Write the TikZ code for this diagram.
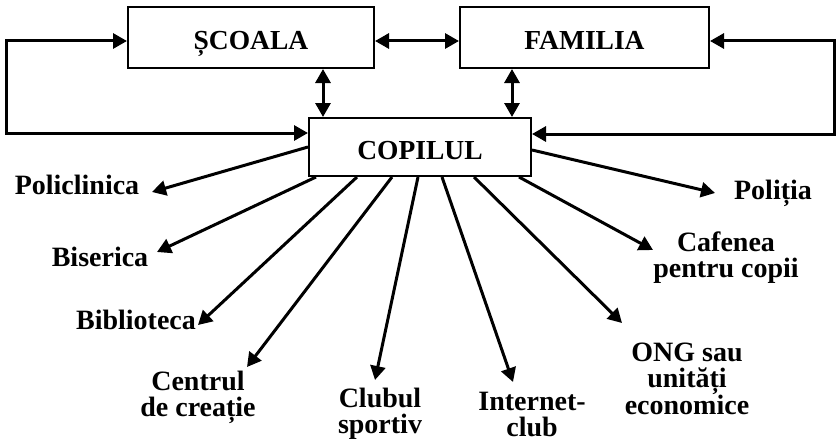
\documentclass[tikz,border=0pt]{standalone}
\usepackage{fontspec}
\setmainfont{Liberation Serif}
\usetikzlibrary{arrows.meta,calc}
\tikzset{box/.style={draw,line width=2pt,inner sep=0pt,text height=24pt,text depth=0pt,
                     font=\bfseries\fontsize{27.5}{26}\selectfont},
         lbl/.style={inner sep=0pt,align=center,font=\bfseries\fontsize{28}{26}\selectfont},
         link/.style={line width=3pt,->},
         dbl/.style={line width=3pt,<->}}

\begin{document}
\begin{tikzpicture}[x=1pt,y=-1pt,>={Triangle[length=14pt,width=15pt]}]
    \useasboundingbox (0,0) rectangle (837,444);
    \node[box,minimum width=246pt,minimum height=61pt] (scoala) at (251,37.5) {ȘCOALA};
    \node[box,minimum width=249pt,minimum height=61pt] (familia) at (584.5,37.5) {FAMILIA};
    \node[box,minimum width=222pt,minimum height=58pt] (copil) at (420,147) {COPILUL};
    \coordinate (lft) at (6,90);
    \coordinate (rgt) at (834,90);

    \node[lbl] (pol) at (77,185) {Policlinica};
    \node[lbl] (bis) at (100,257) {Biserica};
    \node[lbl] (bibl) at (136,320) {Biblioteca};
    \node[lbl] (centr) at (198,397) {Centrul\\de creație};
    \node[lbl] (club) at (380,414) {Clubul\\sportiv};
    \node[lbl] (inet) at (532,414) {Internet-\\club};
    \node[lbl] (ong) at (687,379) {ONG sau\\unități\\economice};
    \node[lbl] (caf) at (726,258) {Cafenea\\pentru copii};
    \node[lbl] (polt) at (773,193) {Poliția};

    \draw[dbl] ([yshift=-3.5pt]scoala.west) -| (lft) |- ([yshift=14pt]copil.west);
    \draw[dbl] ([yshift=-3.5pt]familia.east) -| (rgt) |- ([yshift=13pt]copil.east);
    \draw[dbl] ([yshift=-3.5pt]scoala.east) -- ([yshift=-3.5pt]familia.west);
    \draw[dbl] ([xshift=72pt]scoala.south) -- ([xshift=-97pt]copil.north);
    \draw[dbl] ([xshift=-72.5pt]familia.south) -- ([xshift=92pt]copil.north);

    \draw[link] (copil.west) -- ($(pol)+(75,7)$);
    \draw[link] ([xshift=8pt]copil.south west) -- ($(bis)+(57,-5)$);
    \draw[link] ([xshift=49pt]copil.south west) -- ($(bibl)+(62,5)$);
    \draw[link] ([xshift=84pt]copil.south west) -- ($(centr)+(49,-30)$);
    \draw[link] ([xshift=110pt]copil.south west) -- ($(club)+(-5,-34)$);
    \draw[link] ([xshift=134pt]copil.south west) -- ($(inet)+(-19,-32)$);
    \draw[link] ([xshift=166pt]copil.south west) -- ($(ong)+(-65,-56)$);
    \draw[link] ([xshift=211pt]copil.south west) -- ($(caf)+(-73,-8)$);
    \draw[link] ([yshift=-3pt]copil.east) -- ($(polt)+(-58,0)$);
\end{tikzpicture}
\end{document}
